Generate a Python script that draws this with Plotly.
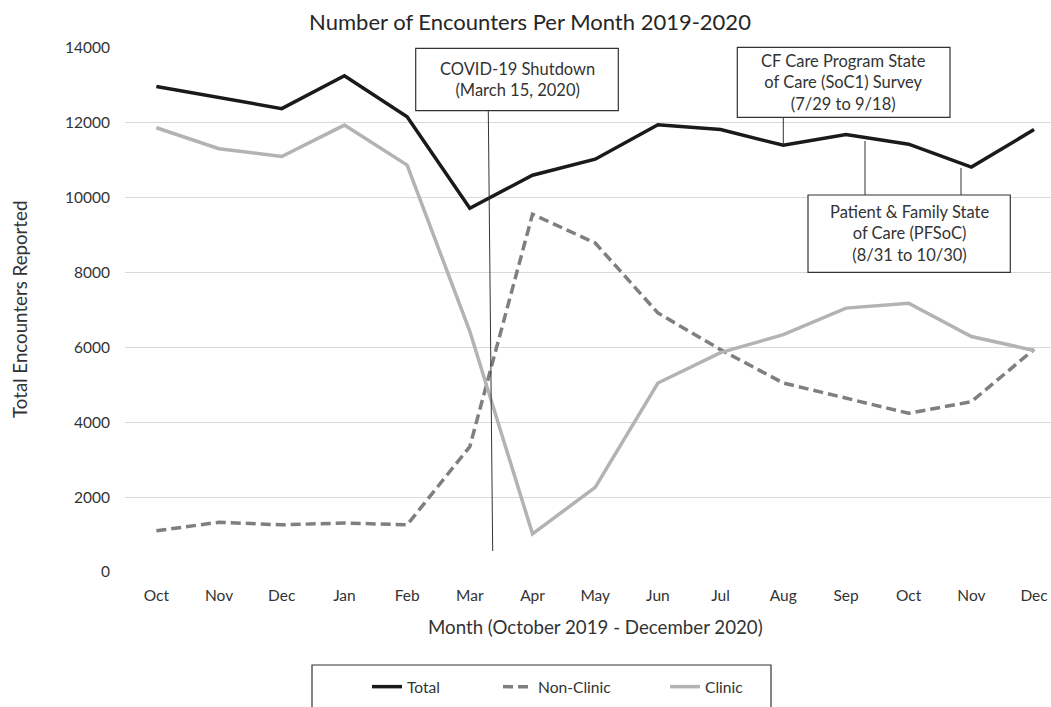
import plotly.graph_objects as go

# ---- data ----
months = ["Oct", "Nov", "Dec", "Jan", "Feb", "Mar", "Apr", "May",
          "Jun", "Jul", "Aug", "Sep", "Oct", "Nov", "Dec"]
total = [12970, 12670, 12380, 13260, 12160, 9720, 10600, 11030,
         11950, 11820, 11400, 11690, 11430, 10820, 11820]
non_clinic = [1100, 1330, 1260, 1310, 1260, 3350, 9560, 8790,
              6920, 5940, 5050, 4640, 4240, 4550, 5950]
clinic = [11870, 11310, 11100, 11940, 10870, 6430, 1020, 2260,
          5050, 5860, 6340, 7050, 7180, 6290, 5920]
y_ticks = [0, 2000, 4000, 6000, 8000, 10000, 12000, 14000]
y_tick_labels = [str(v) for v in y_ticks]

x_idx = list(range(len(months)))

FONT = "Lato, 'Open Sans', sans-serif"
TXT = "#333333"

# pixel -> paper helpers (plot area: x 125..1051, y 48..572)
PL, PR, PT, PB = 125, 1051, 48, 572
def xp(px):
    return (px - PL) / (PR - PL)
def yp(py):
    return (PB - py) / (PB - PT)

fig = go.Figure()
fig.add_trace(go.Scatter(x=x_idx, y=total, name="Total", mode="lines", showlegend=True,
                         line=dict(color="#1a1a1a", width=3.5), legend="legend"))
fig.add_trace(go.Scatter(x=x_idx, y=non_clinic, name="Non-Clinic", mode="lines",
                         showlegend=True,
                         line=dict(color="#7f7f7f", width=3.5, dash="10px,5px"),
                         legend="legend2"))
fig.add_trace(go.Scatter(x=x_idx, y=clinic, name="Clinic", mode="lines", showlegend=True,
                         line=dict(color="#b3b3b3", width=3.5), legend="legend3"))

shapes = []
def rect(x0, y0, x1, y1, w=1.2, fill="white"):
    shapes.append(dict(type="rect", xref="paper", yref="paper",
                       x0=xp(x0), x1=xp(x1), y0=yp(y1), y1=yp(y0),
                       line=dict(color=TXT, width=w), fillcolor=fill, layer="above"))
def seg(x0, y0, x1, y1):
    shapes.append(dict(type="line", xref="paper", yref="paper",
                       x0=xp(x0), x1=xp(x1), y0=yp(y0), y1=yp(y1),
                       line=dict(color=TXT, width=1), layer="above"))

# connector lines
seg(488.3, 110.7, 492.7, 551)
seg(783.3, 117.3, 783.3, 145)
seg(865, 141, 865, 195)
seg(961, 168, 961, 195)
# callout boxes
rect(415.7, 48.3, 618.3, 110.7)
rect(737.3, 47.3, 950, 117.3)
rect(808, 195, 1010.3, 272.3)
# legend frame
rect(312, 665, 771, 730, w=1.2, fill="rgba(0,0,0,0)")

annots = []
def label(px, py, text, size=16.5, **kw):
    annots.append(dict(x=xp(px), y=yp(py), xref="paper", yref="paper", text=text,
                       showarrow=False, xanchor="center", yanchor="middle",
                       font=dict(family=FONT, size=size, color=TXT), **kw))

label(517, 79.5, "COVID-19 Shutdown<br>(March 15, 2020)")
label(843.7, 82.3, "CF Care Program State<br>of Care (SoC1) Survey<br>(7/29 to 9/18)")
label(909, 233.7, "Patient &amp; Family State<br>of Care (PFSoC)<br>(8/31 to 10/30)")
label(595, 627, "Month (October 2019 - December 2020)", size=18.7)
label(20, 310, "Total Encounters Reported", size=18.7, textangle=-90)

leg_common = dict(orientation="h", yanchor="middle", xanchor="left",
                  y=yp(687), bgcolor="rgba(0,0,0,0)",
                  font=dict(family=FONT, size=15.6, color=TXT))

fig.update_layout(
    width=1051, height=707,
    margin=dict(l=PL, r=0, t=PT, b=707 - PB),
    paper_bgcolor="white", plot_bgcolor="white",
    showlegend=True,
    title=dict(text="Number of Encounters Per Month 2019-2020",
               x=530 / 1051, xref="container", xanchor="center",
               y=1 - 22 / 707, yref="container", yanchor="middle",
               font=dict(family=FONT, size=22, color="#262626")),
    xaxis=dict(range=[-0.5, 14.27], tickmode="array", tickvals=x_idx, ticktext=months,
               showgrid=False, zeroline=False, showline=False, automargin=False,
               tickfont=dict(family=FONT, size=15.5, color=TXT), ticklabelstandoff=12),
    yaxis=dict(range=[0, 14000], tickmode="array", tickvals=y_ticks,
               ticktext=y_tick_labels,
               showgrid=True, gridcolor="#d9d9d9", gridwidth=1,
               zeroline=False, showline=False, automargin=False,
               tickfont=dict(family=FONT, size=15.5, color=TXT), ticklabelstandoff=14),
    legend=dict(x=xp(367), **leg_common),
    legend2=dict(x=xp(498), **leg_common),
    legend3=dict(x=xp(665), **leg_common),
    shapes=shapes,
    annotations=annots,
)

fig.write_html("out.html", config={"displayModeBar": False},
               post_script="document.body.style.margin='0';document.body.style.overflow='hidden';")
